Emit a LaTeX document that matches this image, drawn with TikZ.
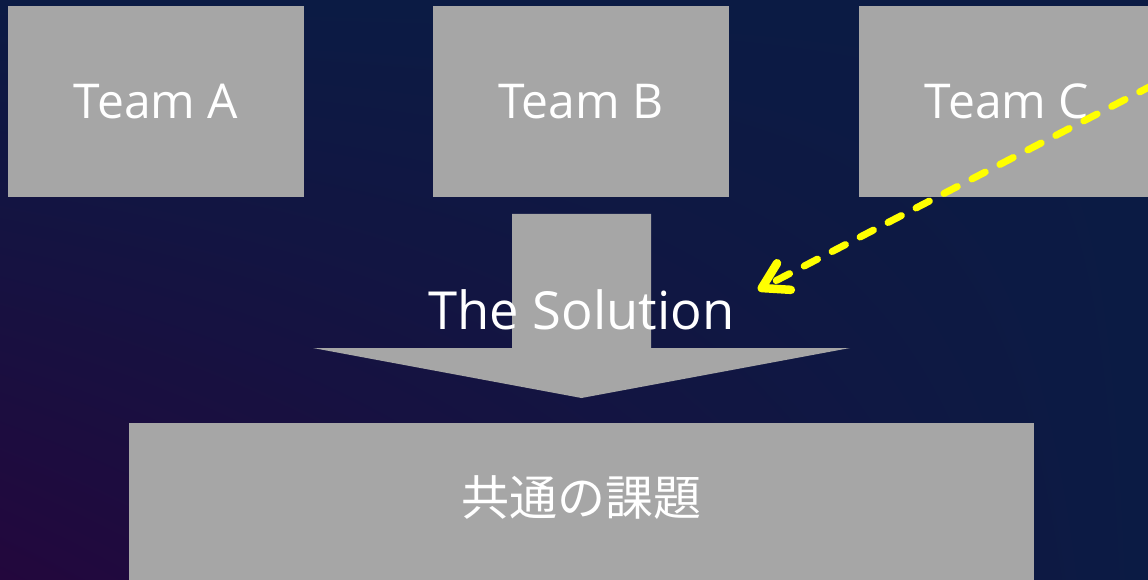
\documentclass[tikz,border=0pt]{standalone}
\usepackage{fontspec}
\setmainfont{Open Sans}
\newfontfamily\jpfont{Noto Sans CJK JP}
\usetikzlibrary{arrows.meta,shadings}
\definecolor{navy}{HTML}{0B1B44}
\definecolor{deeppurple}{HTML}{23073D}
\definecolor{boxgray}{HTML}{A6A6A6}
\definecolor{hiyellow}{HTML}{FFFF00}
\begin{document}
\begin{tikzpicture}[x=1pt,y=-1pt,
  teambox/.style={fill=boxgray, draw=none, minimum width=296pt, minimum height=191pt, inner sep=0pt, text=white, font=\fontsize{48}{56}\selectfont},
  bigtext/.style={text=white, inner sep=0pt, font=\fontsize{52.5}{60}\selectfont},
  jptext/.style={text=white, inner sep=0pt, font=\jpfont\fontsize{48}{56}\selectfont},
  pointer/.style={hiyellow, line width=7pt, dash pattern=on 15pt off 16.5pt, line cap=round, -{Straight Barb[length=25pt,width=30pt,line width=8.5pt,round]}}]
\useasboundingbox (0,0) rectangle (1148,580);
\clip (0,0) rectangle (1148,580);
\shade[upper left=navy, upper right=navy, lower right=navy, lower left=deeppurple] (0,0) rectangle (1148,580);
% team boxes
\node[teambox] (teamA) at (156,101.5) {Team A};
\node[teambox] (teamB) at (581,101.5) {Team B};
\node[teambox] (teamC) at (1007,101.5) {Team C};
% big down arrow
\fill[boxgray] (512,214) -- (651,214) -- (651,348) -- (850,348) -- (581.5,398) -- (313,348) -- (512,348) -- cycle;
\node[bigtext] (solution) at (581.5,310) {The Solution};
% bottom box
\node[fill=boxgray, minimum width=905pt, minimum height=165pt, inner sep=0pt, anchor=north] (issuebox) at (581.5,423) {};
\node[jptext] (issue) at (581.5,498) {共通の課題};
% yellow pointer
\coordinate (cstart) at (1153,85);
\coordinate (ctip) at (758,290);
\draw[pointer] (cstart) -- (ctip);
\end{tikzpicture}
\end{document}
